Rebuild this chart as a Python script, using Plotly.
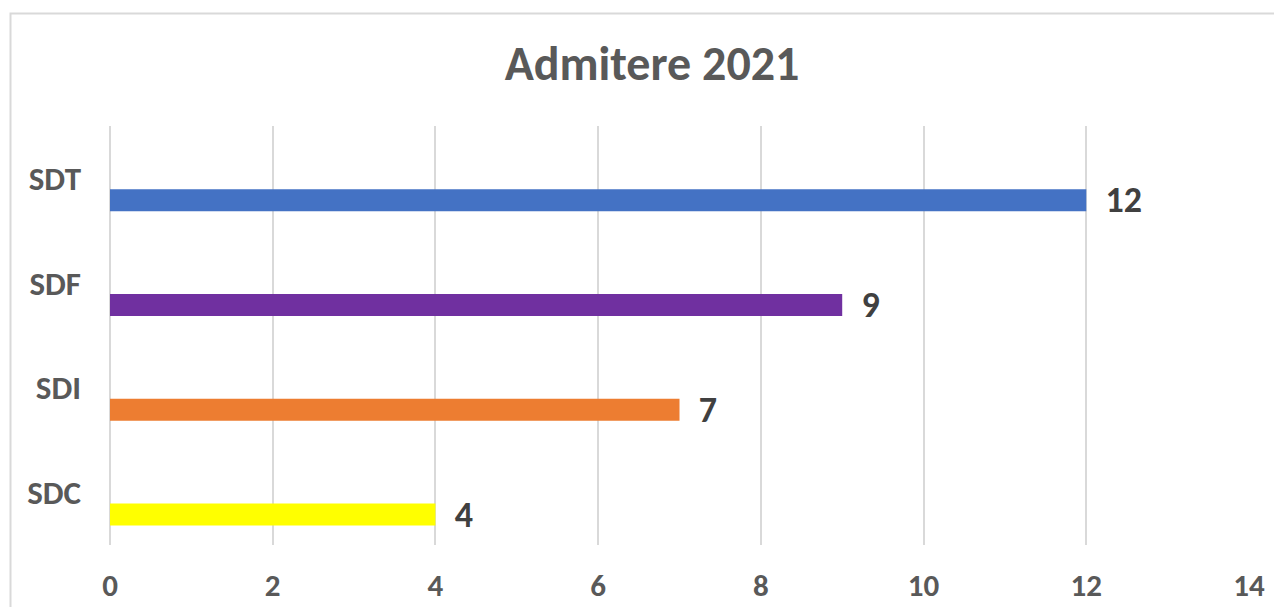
import plotly.graph_objects as go

categories = ["SDC", "SDI", "SDF", "SDT"]
values = [4, 7, 9, 12]
colors = ["#FFFF00", "#ED7D31", "#7030A0", "#4472C4"]
x_ticks = [0, 2, 4, 6, 8, 10, 12, 14]
title_text = "Admitere 2021"

FONT = "Calibri, Carlito, Lato, sans-serif"

# page body has an 8px margin, so the figure is drawn 8px right/down
W, H = 1266, 599
PL, PR = 102, 1241   # plot area left/right in figure px
PT, PB = 118, 537    # plot area top/bottom in figure px

fig = go.Figure()
fig.add_trace(go.Bar(
    y=categories,
    x=values,
    orientation="h",
    marker=dict(color=colors, line=dict(width=0)),
    width=0.21,
    offset=-0.315,
    text=[f"  {v}" for v in values],
    textposition="outside",
    constraintext="none",
    cliponaxis=False,
    textfont=dict(family=FONT, size=36, color="#404040", weight="bold"),
    hoverinfo="skip",
))

fig.update_layout(
    width=W,
    height=H,
    margin=dict(l=PL, r=W - PR, t=PT, b=H - PB, pad=0, autoexpand=False),
    paper_bgcolor="white",
    plot_bgcolor="white",
    showlegend=False,
    title=dict(
        text=title_text,
        x=644 / W,
        xanchor="center",
        xref="container",
        y=1 - 55 / H,
        yanchor="middle",
        yref="container",
        automargin=False,
        font=dict(family=FONT, size=48, color="#595959", weight="bold"),
    ),
    xaxis=dict(
        range=[0, 14],
        tickvals=x_ticks,
        ticktext=[str(t) for t in x_ticks],
        showgrid=True,
        gridcolor="#D9D9D9",
        gridwidth=2,
        zeroline=True,
        zerolinecolor="#D9D9D9",
        zerolinewidth=2,
        showline=False,
        ticks="",
        automargin=False,
        ticklabelstandoff=19,
        tickfont=dict(family=FONT, size=31, color="#595959", weight="bold"),
        fixedrange=True,
    ),
    yaxis=dict(
        type="category",
        categoryorder="array",
        categoryarray=categories,
        range=[-0.5, 3.5],
        showgrid=False,
        zeroline=False,
        showline=False,
        ticks="",
        automargin=False,
        ticklabelstandoff=28,
        tickfont=dict(family=FONT, size=33, color="#595959", weight="bold"),
        fixedrange=True,
    ),
    shapes=[
        dict(
            type="rect",
            xref="paper", yref="paper",
            x0=(2.5 - PL) / (PR - PL), x1=1.2,
            y0=-0.5, y1=(PB - 5.5) / (PB - PT),
            line=dict(color="#D9D9D9", width=2),
            fillcolor="rgba(0,0,0,0)",
            layer="below",
        )
    ],
)

fig.write_html("out.html")
